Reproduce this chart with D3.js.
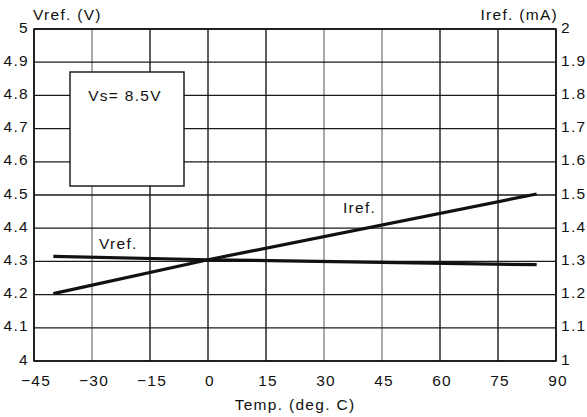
<!DOCTYPE html>
<html><head><meta charset="utf-8">
<script src="https://cdn.jsdelivr.net/npm/d3@7"></script>
<style>body{margin:0;background:#fff}svg{display:block}text{font-family:"Liberation Sans",Arial,sans-serif;fill:#111;letter-spacing:1.3px}</style>
</head><body><svg id="c" width="587" height="417"></svg>
<script>
const xTicks = [-45,-30,-15,0,15,30,45,60,75,90];
const vTicks = [4,4.1,4.2,4.3,4.4,4.5,4.6,4.7,4.8,4.9,5];
const iTicks = [1,1.1,1.2,1.3,1.4,1.5,1.6,1.7,1.8,1.9,2];
const vTickLabels = ["4","4.1","4.2","4.3","4.4","4.5","4.6","4.7","4.8","4.9","5"];
const iTickLabels = ["1","1.1","1.2","1.3","1.4","1.5","1.6","1.7","1.8","1.9","2"];
const vrefTemp = [-40, 0, 85];
const vrefVal = [4.315, 4.305, 4.29];
const irefTemp = [-40, 0, 85];
const irefVal = [1.203, 1.305, 1.503];
const boxText = "Vs= 8.5V";

const svg = d3.select("#c");
const L=34,R=556,T=29,B=361;
const FS=15.5;
const x = d3.scaleLinear().domain([-45,90]).range([L,R]);
const yV = d3.scaleLinear().domain([4,5]).range([B,T]);
const yI = d3.scaleLinear().domain([1,2]).range([B,T]);

const g = svg.append("g");
// grid
g.selectAll(".vg").data(xTicks).enter().append("line")
 .attr("x1",d=>x(d)).attr("x2",d=>x(d)).attr("y1",T).attr("y2",B)
 .attr("stroke",(d,i)=>[1,5,6].includes(i)?"#555":"#1a1a1a")
 .attr("stroke-width",(d,i)=>[1,5,6].includes(i)?1:1.4);
g.selectAll(".hg").data(vTicks).enter().append("line")
 .attr("y1",d=>yV(d)).attr("y2",d=>yV(d)).attr("x1",L).attr("x2",R)
 .attr("stroke","#1a1a1a").attr("stroke-width",1.3);
// frame
g.append("rect").attr("x",L).attr("y",T).attr("width",R-L).attr("height",B-T)
 .attr("fill","none").attr("stroke","#111").attr("stroke-width",1.5);

// axes
const xa = svg.append("g").attr("transform",`translate(0,${B})`)
 .call(d3.axisBottom(x).tickValues(xTicks).tickSize(0).tickPadding(14).tickFormat(d=>d<0?"\u2212"+Math.abs(d):d));
const ya = svg.append("g").attr("transform",`translate(${L},0)`)
 .call(d3.axisLeft(yV).tickValues(vTicks).tickSize(0).tickPadding(5).tickFormat((d,i)=>vTickLabels[i]));
const yi = svg.append("g").attr("transform",`translate(${R},0)`)
 .call(d3.axisRight(yI).tickValues(iTicks).tickSize(0).tickPadding(5).tickFormat((d,i)=>iTickLabels[i]));
[xa,ya,yi].forEach(a=>{a.select(".domain").remove();a.selectAll("text").attr("font-size",FS).attr("font-family","Liberation Sans, Arial, sans-serif").attr("fill","#111");});
ya.selectAll("text").attr("dy","0.2em");
yi.selectAll("text").attr("dy","0.2em");
xa.selectAll("text").attr("dx","0.1em");

// box
svg.append("rect").attr("x",70).attr("y",72).attr("width",114).attr("height",114)
 .attr("fill","#fff").attr("stroke","#111").attr("stroke-width",1.4);
svg.append("text").attr("x",125).attr("y",101).attr("text-anchor","middle").attr("font-size",FS).text(boxText);

// lines
const lv = d3.line().x(d=>x(d[0])).y(d=>yV(d[1]));
const li = d3.line().x(d=>x(d[0])).y(d=>yI(d[1]));
svg.append("path").datum(vrefTemp.map((t,i)=>[t,vrefVal[i]])).attr("d",lv)
 .attr("fill","none").attr("stroke","#111").attr("stroke-width",3.2);
svg.append("path").datum(irefTemp.map((t,i)=>[t,irefVal[i]])).attr("d",li)
 .attr("fill","none").attr("stroke","#111").attr("stroke-width",3.2);

// labels
svg.append("text").attr("x",x(-28.2)).attr("y",yV(4.337)).attr("font-size",FS).text("Vref.");
svg.append("text").attr("x",x(34.9)).attr("y",yV(4.446)).attr("font-size",FS).text("Iref.");
svg.append("text").attr("x",33).attr("y",20).attr("font-size",FS).text("Vref. (V)");
svg.append("text").attr("x",558).attr("y",20).attr("text-anchor","end").attr("font-size",FS).text("Iref. (mA)");
svg.append("text").attr("x",295).attr("y",410).attr("text-anchor","middle").attr("font-size",FS).text("Temp. (deg. C)");
</script></body></html>
